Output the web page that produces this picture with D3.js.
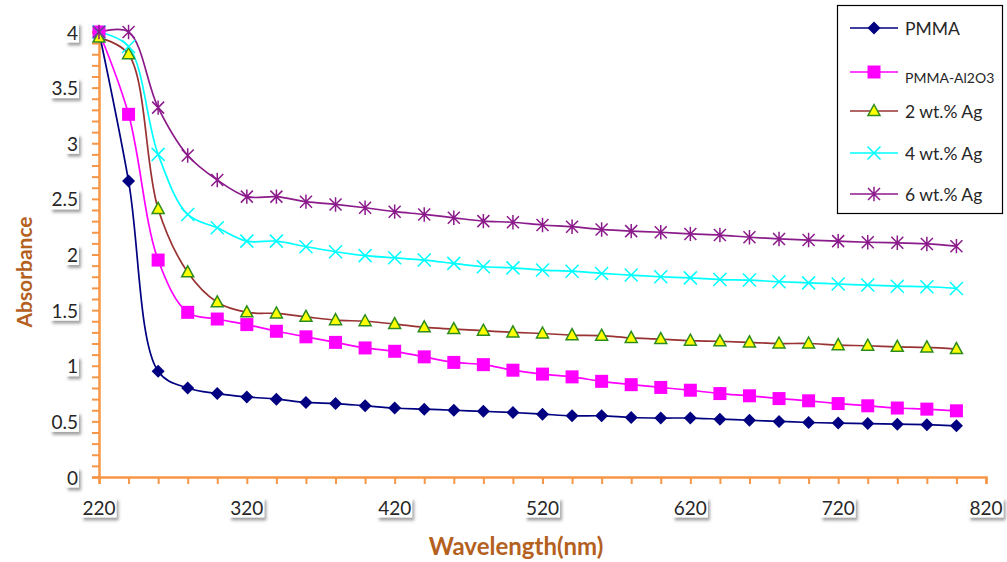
<!DOCTYPE html>
<html><head><meta charset="utf-8">
<script src="https://cdn.jsdelivr.net/npm/d3@7"></script>
<style>body{margin:0;background:#fff}svg{display:block}</style>
</head><body>
<svg id="c" width="1007" height="562"></svg>
<script>
const wavelengths = [220,240,260,280,300,320,340,360,380,400,420,440,460,480,500,520,540,560,580,600,620,640,660,680,700,720,740,760,780,800];
const seriesNames = ["PMMA","PMMA-Al2O3","2 wt.% Ag","4 wt.% Ag","6 wt.% Ag"];
const pmma   = [4.00,2.66,0.95,0.80,0.75,0.72,0.70,0.67,0.66,0.64,0.62,0.61,0.60,0.59,0.58,0.565,0.55,0.55,0.535,0.53,0.53,0.52,0.51,0.50,0.49,0.485,0.48,0.475,0.47,0.46];
const al2o3  = [4.00,3.26,1.95,1.48,1.42,1.37,1.31,1.26,1.21,1.16,1.13,1.08,1.03,1.01,0.96,0.925,0.90,0.86,0.83,0.805,0.78,0.75,0.73,0.705,0.685,0.66,0.64,0.62,0.61,0.595];
const ag2    = [3.95,3.80,2.41,1.84,1.57,1.48,1.47,1.44,1.41,1.40,1.375,1.345,1.33,1.315,1.30,1.29,1.275,1.27,1.25,1.24,1.225,1.22,1.21,1.20,1.20,1.185,1.18,1.17,1.165,1.15];
const ag4    = [4.00,3.87,2.90,2.36,2.24,2.12,2.12,2.07,2.025,1.99,1.97,1.95,1.92,1.89,1.88,1.86,1.85,1.83,1.815,1.80,1.79,1.775,1.77,1.755,1.745,1.735,1.725,1.715,1.71,1.695];
const ag6    = [4.00,4.00,3.32,2.89,2.67,2.52,2.52,2.475,2.45,2.42,2.385,2.36,2.33,2.30,2.29,2.265,2.25,2.225,2.21,2.20,2.185,2.175,2.155,2.14,2.13,2.12,2.11,2.105,2.095,2.075];
const xTickLabels = [220,320,420,520,620,720,820];
const yTickLabels = [0,0.5,1,1.5,2,2.5,3,3.5,4];

const legendLabels = ["PMMA","PMMA-Al2O3","2 wt.% Ag","4 wt.% Ag","6 wt.% Ag"];
const allSeries = [pmma, al2o3, ag2, ag4, ag6];
const styles = [
  {line:"#000080", marker:"diamond", fill:"#000080", stroke:"#000080"},
  {line:"#FF00FF", marker:"square", fill:"#FF00FF", stroke:"#FF00FF"},
  {line:"#993333", marker:"triangle", fill:"#FFFF00", stroke:"#2E8B1E"},
  {line:"#00FFFF", marker:"x", fill:"none", stroke:"#00FFFF"},
  {line:"#8B1A8B", marker:"star", fill:"none", stroke:"#8B1A8B"}
];

const svg = d3.select("#c");
const defs = svg.append("defs");
const f = defs.append("filter").attr("id","sh").attr("x","-30%").attr("y","-30%").attr("width","170%").attr("height","180%");
f.append("feDropShadow").attr("dx",2).attr("dy",3).attr("stdDeviation",1.6).attr("flood-color","#555").attr("flood-opacity",0.55);

const x = d3.scaleLinear().domain([220,820]).range([99,986]);
const y = d3.scaleLinear().domain([0,4]).range([477,32]);
const axisColor = "#F79646";
const font = "Lato, 'Open Sans', sans-serif";

// axes
const gx = svg.append("g").attr("transform","translate(0,477)")
  .call(d3.axisBottom(x).tickValues(d3.range(220,821,20)).tickSize(7).tickFormat(""));
const gy = svg.append("g").attr("transform","translate(99,0)")
  .call(d3.axisLeft(y).tickValues(d3.range(0,40.5,1).map(v=>v/10)).tickSize(7).tickFormat(""));
[gx,gy].forEach(g=>{
  g.selectAll("path").attr("stroke",axisColor).attr("stroke-width",2.5);
  g.selectAll("line").attr("stroke",axisColor).attr("stroke-width",2);
});

// tick labels with shadowed boxes
function label(tx,ty,txt,anchor){
  const g = svg.append("g");
  const t = g.append("text").attr("x",tx).attr("y",ty).attr("text-anchor",anchor)
    .attr("dominant-baseline","central").attr("font-family",font).attr("font-size",19)
    .attr("fill","#262626").text(txt);
  const b = t.node().getBBox();
  g.insert("rect","text").attr("x",b.x-1).attr("y",b.y+2).attr("width",b.width+2).attr("height",b.height-3)
    .attr("fill","#fff").attr("filter","url(#sh)");
}
xTickLabels.forEach(v=>label(x(v),507,String(v),"middle"));
yTickLabels.forEach(v=>label(78,y(v),String(v),"end"));

// axis titles
svg.append("text").attr("transform","translate(23,272) rotate(-90)").attr("text-anchor","middle")
  .attr("dominant-baseline","central").attr("font-family",font).attr("font-weight","bold")
  .attr("font-size",21).attr("fill","#B4601E").text("Absorbance");
svg.append("text").attr("x",516).attr("y",545).attr("text-anchor","middle")
  .attr("dominant-baseline","central").attr("font-family",font).attr("font-weight","bold")
  .attr("font-size",24).attr("fill","#B4601E").text("Wavelength(nm)");

// markers
function drawMarker(g,cx,cy,st,s){
  s = s||1;
  if(st.marker==="diamond"){
    g.append("path").attr("d",`M${cx},${cy-6.5*s}L${cx+6.5*s},${cy}L${cx},${cy+6.5*s}L${cx-6.5*s},${cy}Z`).attr("fill",st.fill);
  } else if(st.marker==="square"){
    g.append("rect").attr("x",cx-6.5*s).attr("y",cy-6.5*s).attr("width",13*s).attr("height",13*s).attr("fill",st.fill);
  } else if(st.marker==="triangle"){
    g.append("path").attr("d",`M${cx},${cy-6.5*s}L${cx+6*s},${cy+4.5*s}L${cx-6*s},${cy+4.5*s}Z`).attr("fill",st.fill).attr("stroke",st.stroke).attr("stroke-width",1.5);
  } else if(st.marker==="x"){
    const r=6.5*s;
    g.append("path").attr("d",`M${cx-r},${cy-r}L${cx+r},${cy+r}M${cx-r},${cy+r}L${cx+r},${cy-r}`).attr("stroke",st.stroke).attr("stroke-width",1.5);
  } else if(st.marker==="star"){
    const r=6*s;
    g.append("path").attr("d",`M${cx-r},${cy-r}L${cx+r},${cy+r}M${cx-r},${cy+r}L${cx+r},${cy-r}M${cx},${cy-r*1.2}L${cx},${cy+r*1.2}`).attr("stroke",st.stroke).attr("stroke-width",1.5);
  }
}

const line = d3.line().x(d=>x(d[0])).y(d=>y(d[1])).curve(d3.curveCatmullRom.alpha(0.5));
allSeries.forEach((vals,i)=>{
  const st = styles[i];
  const pts = wavelengths.map((w,j)=>[w,vals[j]]);
  svg.append("path").attr("d",line(pts)).attr("fill","none").attr("stroke",st.line).attr("stroke-width",1.7);
});
allSeries.forEach((vals,i)=>{
  const st = styles[i];
  const g = svg.append("g");
  wavelengths.forEach((w,j)=>drawMarker(g,x(w),y(vals[j]),st));
});

// legend
svg.append("rect").attr("x",837.5).attr("y",5.5).attr("width",165).attr("height",208).attr("fill","#fff").attr("stroke","#000").attr("stroke-width",1.2);
const rowY = [28,72,111,153,194];
legendLabels.forEach((name,i)=>{
  const st = styles[i];
  const g = svg.append("g");
  g.append("line").attr("x1",850).attr("x2",898).attr("y1",rowY[i]).attr("y2",rowY[i]).attr("stroke",st.line).attr("stroke-width",1.6);
  drawMarker(g,874,rowY[i],st);
  g.append("text").attr("x",905).attr("y",rowY[i]+(i===1?5:0)).attr("dominant-baseline","central")
    .attr("font-family",font).attr("font-size",i===1?14:17.5).attr("fill","#262626").text(name);
});
</script>
</body></html>
